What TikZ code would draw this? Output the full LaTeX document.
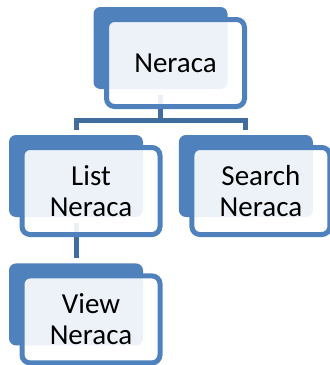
\documentclass[tikz,border=0pt]{standalone}
\usepackage{fontspec}
\setmainfont{Carlito}
\usetikzlibrary{positioning}
\definecolor{accblue}{RGB}{79,129,189}
\definecolor{lineblue}{RGB}{65,108,158}
\tikzset{
    %Define style for the blue boxes behind
    backbox/.style={
           rectangle,
           rounded corners=7pt,
           fill=accblue,
           minimum width=134pt,
           minimum height=82pt},
    %Define style for the boxes with text
    frontbox/.style={
           rectangle,
           rounded corners=8pt,
           draw=accblue, line width=5pt,
           fill=white, fill opacity=0.9, text opacity=1,
           minimum width=138pt,
           minimum height=87pt,
           align=center,
           font=\fontsize{29}{31}\selectfont},
    % Define connector style
    conn/.style={
           draw=lineblue,
           line width=5pt}
}
\begin{document}
\begin{tikzpicture}[x=1pt,y=-1pt]
     \useasboundingbox (0,0) rectangle (330,365);
     % boxes behind
     \node[backbox] (nerback) at (160.5,48) {};
     \node[backbox] (listback) at (76,176) {};
     \node[backbox, right=35.5pt of listback] (searchback) {};
     \node[backbox, below=46pt of listback] (viewback) {};
     % connectors
     \coordinate (bar) at (nerback |- 0,120.5);
     \draw[conn] ([yshift=-6pt]nerback.south) -- (bar);
     \draw[conn] ([yshift=5pt]listback.north) |- (bar) -| ([yshift=5pt]searchback.north);
     \draw[conn] ([yshift=-6pt]listback.south) -- ([yshift=5pt]viewback.north);
     % boxes with text
     \node[frontbox] (neraca) at ([shift={(15,15)}]nerback) {Neraca};
     \node[frontbox] (list) at ([shift={(15,15)}]listback) {List\\Neraca};
     \node[frontbox] (search) at ([shift={(15,15)}]searchback) {Search\\Neraca};
     \node[frontbox] (view) at ([shift={(15,15)}]viewback) {View\\Neraca};
\end{tikzpicture}
\end{document}
